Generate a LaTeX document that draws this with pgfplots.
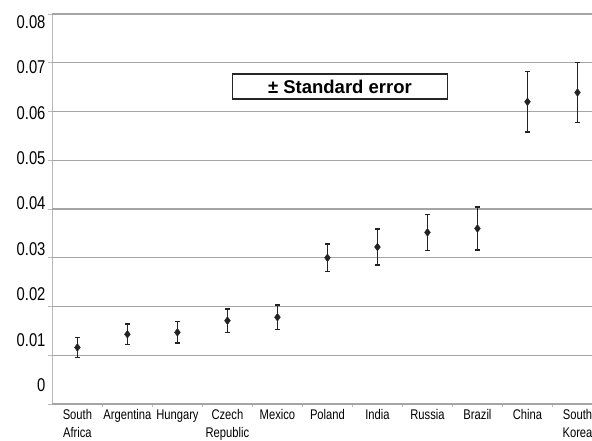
\documentclass[border=0pt]{standalone}
\usepackage{fontspec}
\setmainfont{Liberation Sans}
\newfontfamily\narrowfont{Liberation Sans}[FakeStretch=0.8]
\usepackage{pgfplots}
\pgfplotsset{compat=1.18}
\usepackage{pgfplotstable}
\definecolor{gridgray}{RGB}{165,165,165}
\definecolor{axisgray}{RGB}{185,185,185}
\definecolor{markcol}{RGB}{35,35,35}

\pgfplotstableread{
x y e
0 0.0116 0.0020
1 0.0143 0.0021
2 0.0147 0.0022
3 0.0171 0.0024
4 0.0178 0.0025
5 0.0300 0.0028
6 0.0322 0.0037
7 0.0352 0.0037
8 0.0360 0.0044
9 0.0620 0.0062
10 0.0639 0.0061
}\datatable

\begin{document}
\begin{tikzpicture}
\begin{axis}[
  at={(52pt,36pt)}, anchor=south west,
  scale only axis, width=540pt, height=390pt,
  xmin=-0.508, xmax=10.29, ymin=0, ymax=0.08,
  axis x line*=bottom, axis y line*=left,
  axis line style={axisgray, line width=0.8pt},
  tick align=outside,
  major tick length=0pt,
  scaled y ticks=false,
  xtick={0,...,10},
  xticklabels={South\\Africa, Argentina\\\mbox{}, Hungary\\\mbox{}, Czech\\Republic, Mexico\\\mbox{}, Poland\\\mbox{}, India\\\mbox{}, Russia\\\mbox{}, Brazil\\\mbox{}, China\\\mbox{}, South\\Korea},
  xticklabel style={align=center, anchor=north, font=\narrowfont\fontsize{14}{17.5}\selectfont, text=black,
    yshift=-2pt},
  extra x ticks={0.5,1.5,2.5,3.5,4.5,5.5,6.5,7.5,8.5,9.5},
  extra x tick labels={},
  extra x tick style={major tick length=3pt, tick style={axisgray, line width=0.8pt}},
  ytick={0.00379,0.01313,0.02245,0.03177,0.04111,0.05042,0.05975,0.06908,0.07842},
  yticklabels={0,0.01,0.02,0.03,0.04,0.05,0.06,0.07,0.08},
  yticklabel style={font=\narrowfont\fontsize{18.5}{18.5}\selectfont, text=black, xshift=-3pt},
  extra y ticks={0,0.01,0.02,0.03,0.04,0.05,0.06,0.07,0.08},
  extra y tick labels={},
  extra y tick style={grid=major, major tick length=4pt, tick style={axisgray, line width=0.8pt}},
  grid style={gridgray, line width=1.3pt},
  clip=false,
]
\addplot[only marks, mark=diamond*, mark size=3.9pt, color=markcol,
  error bars/.cd, y dir=both, y explicit, error mark=-,
  error mark options={rotate=90, markcol, line width=1.3pt, mark size=2.3pt},
  error bar style={markcol, line width=1.8pt}]
  table[x=x, y=y, y error=e] {\datatable};
\node[draw=black!85, line width=1.6pt, fill=white, minimum width=215pt, minimum height=25pt, inner sep=0pt,
  font=\bfseries\fontsize{18.5}{18.5}\selectfont] at (axis cs:5.25,0.0651) {± Standard error};
\end{axis}
\pgfresetboundingbox
\path[use as bounding box] (0pt,0pt) rectangle (592pt,440pt);
\end{tikzpicture}
\end{document}
